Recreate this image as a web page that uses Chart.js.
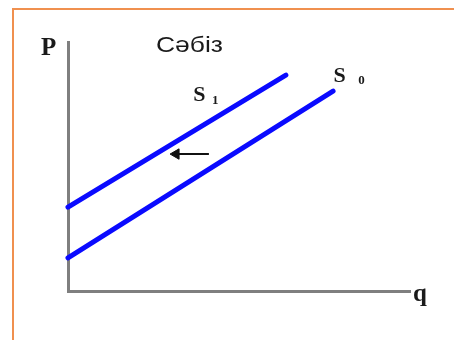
<!DOCTYPE html>
<html>
<head>
<meta charset="utf-8">
<script src="https://cdn.jsdelivr.net/npm/chart.js@4.4.1/dist/chart.umd.min.js"></script>
<style>
    html, body { margin: 0; padding: 0; background: #fff; }
    #wrap { position: relative; width: 454px; height: 340px; overflow: hidden; }
    #frame {
        position: absolute; left: 12px; top: 8px; right: -4px; bottom: -4px;
        border-top: 2px solid #f0904f; border-left: 2px solid #f0904f;
    }
    canvas { position: absolute; left: 0; top: 0; }
</style>
</head>
<body>
<div id="wrap">
    <div id="frame"></div>
    <canvas id="supplyChart" width="454" height="340"></canvas>
</div>
<script>
// Curve di offerta (quantità q, prezzo P)
const qS1 = [0, 63.7];
const pS1 = [33.7, 86.7];
const qS0 = [0, 77.5];
const pS0 = [13.3, 80.3];
// Freccia dello spostamento S0 -> S1
const qShift = [31.6, 41.2];
const pShift = [55, 55];

const chartTitle = 'Сәбіз';
const axisLabels = { y: 'P', x: 'q' };

const toPoints = (xs, ys) => xs.map((v, i) => ({ x: v, y: ys[i] }));

// Testi: titolo, assi e nomi delle curve
const labelPlugin = {
    id: 'labels',
    afterDraw(chart) {
        const { ctx, chartArea: area, scales: { x, y } } = chart;
        ctx.save();
        ctx.fillStyle = '#1a1a1a';
        ctx.textBaseline = 'alphabetic';

        ctx.font = 'bold 25px "Liberation Serif"';
        ctx.fillText(axisLabels.y, area.left - 27, area.top + 13);
        ctx.fillText(axisLabels.x, area.right + 3, area.bottom + 10);

        // titolo (leggermente allargato come nell'originale)
        ctx.font = '22px "Liberation Sans"';
        const w = ctx.measureText(chartTitle).width;
        ctx.save();
        ctx.translate(area.left + 88, area.top + 10);
        ctx.scale(67 / w, 1);
        ctx.fillText(chartTitle, 0, 0);
        ctx.restore();

        // nomi delle curve con pedice
        ctx.font = 'bold 22px "Liberation Serif"';
        ctx.fillText('S', x.getPixelForValue(36.6), y.getPixelForValue(76.3));
        ctx.fillText('S', x.getPixelForValue(77.6), y.getPixelForValue(83.9));
        ctx.font = 'bold 13px "Liberation Serif"';
        ctx.fillText('1', x.getPixelForValue(42.1), y.getPixelForValue(75.2));
        ctx.fillText('0', x.getPixelForValue(84.9), y.getPixelForValue(83.3));
        ctx.restore();
    }
};

const ctx = document.getElementById('supplyChart').getContext('2d');
new Chart(ctx, {
    type: 'scatter',
    data: {
        datasets: [
            {
                label: 'S1',
                data: toPoints(qS1, pS1),
                showLine: true,
                borderColor: '#0a0aff',
                borderWidth: 5,
                borderCapStyle: 'round',
                pointRadius: 0,
                clip: false
            },
            {
                label: 'S0',
                data: toPoints(qS0, pS0),
                showLine: true,
                borderColor: '#0a0aff',
                borderWidth: 5,
                borderCapStyle: 'round',
                pointRadius: 0,
                clip: false
            },
            {
                label: 'shift',
                data: toPoints(qShift, pShift),
                showLine: true,
                borderColor: '#111',
                borderWidth: 2,
                pointStyle: 'triangle',
                pointRotation: -90,
                pointRadius: [6, 0],
                backgroundColor: '#111',
                pointBorderColor: '#111',
                pointBorderWidth: 1,
                clip: false
            }
        ]
    },
    options: {
        responsive: false,
        animation: false,
        events: [],
        layout: { padding: { left: 68, top: 42, right: 44, bottom: 49 } },
        plugins: {
            legend: { display: false },
            tooltip: { enabled: false }
        },
        scales: {
            x: {
                type: 'linear',
                min: 0,
                max: 100,
                grid: { display: false },
                ticks: { display: false },
                border: { display: true, color: '#7f7f7f', width: 3 },
                afterFit: (scale) => { scale.height = 0; }
            },
            y: {
                type: 'linear',
                min: 0,
                max: 100,
                grid: { display: false },
                ticks: { display: false },
                border: { display: true, color: '#7f7f7f', width: 3 },
                afterFit: (scale) => { scale.width = 0; }
            }
        }
    },
    plugins: [labelPlugin]
});
</script>
</body>
</html>
